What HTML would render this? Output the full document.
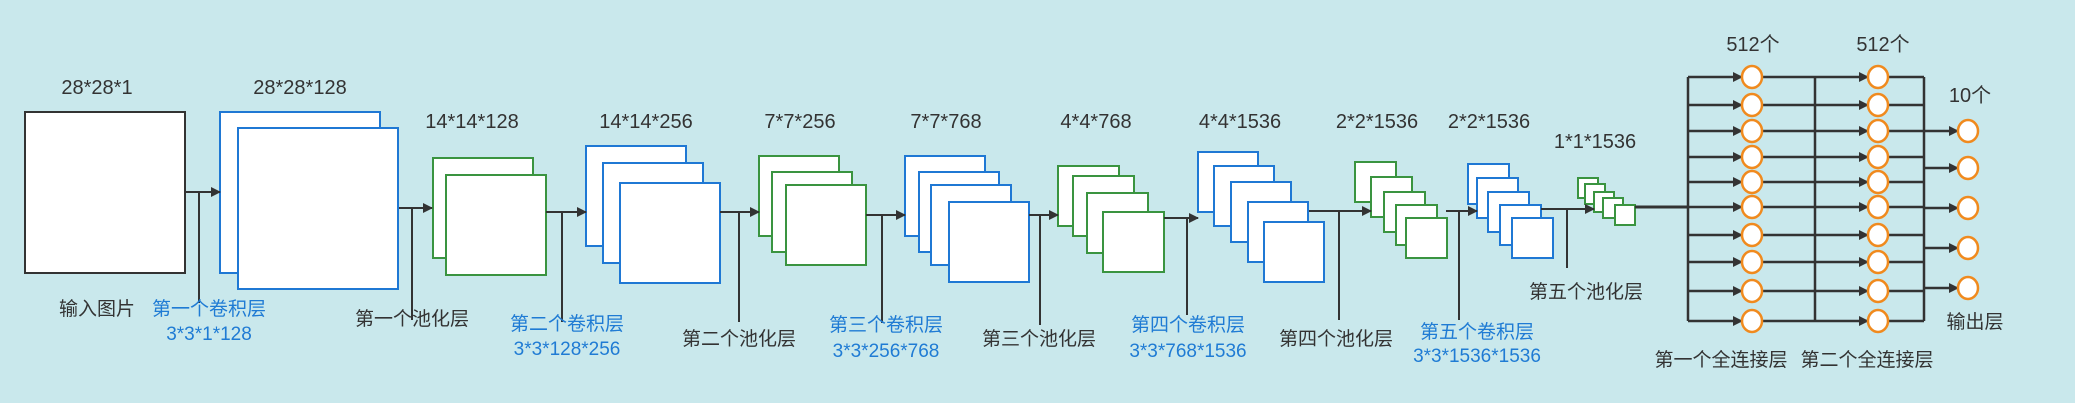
<!DOCTYPE html>
<html><head><meta charset="utf-8"><style>
html,body{margin:0;padding:0;background:#c9e8ec;}
svg{display:block;}
text{font-family:"Liberation Sans","Noto Sans CJK SC",sans-serif;}
.d{font-size:20px;fill:#333;}
.c{font-size:19px;fill:#333;}
.b{font-size:19px;fill:#1f7bd4;}
</style></head><body>
<svg width="2075" height="403" viewBox="0 0 2075 403" xmlns="http://www.w3.org/2000/svg">
<defs><marker id="ah" markerWidth="10" markerHeight="10" refX="9" refY="5" orient="auto" markerUnits="userSpaceOnUse"><path d="M0,0 L10,5 L0,10 z" fill="#333"/></marker></defs>
<rect width="2075" height="403" fill="#c9e8ec"/>
<g id="boxes" fill="#fff" stroke-width="2"></g>
<g id="lines" stroke="#333" stroke-width="2" fill="none"></g>
<g id="labels"></g>
<g id="fc"></g>
</svg>
<script>
const NS='http://www.w3.org/2000/svg';
function mk(tag,attrs,parent,name){const e=document.createElementNS(NS,tag);for(const k in attrs)e.setAttribute(k,attrs[k]);


document.getElementById(parent).appendChild(e);return e;}
const BLUE='#1f78d4',GREEN='#3a9440',BLACK='#333';
const stacks=[
 ['input-image-box',BLACK,160,161,[[25,112]]],
 ['conv1-maps',BLUE,160,161,[[220,112],[238,128]]],
 ['pool1-maps',GREEN,100,100,[[433,158],[446,175]]],
 ['conv2-maps',BLUE,100,100,[[586,146],[603,163],[620,183]]],
 ['pool2-maps',GREEN,80,80,[[759,156],[772,172],[786,185]]],
 ['conv3-maps',BLUE,80,80,[[905,156],[919,172],[931,185],[949,202]]],
 ['pool3-maps',GREEN,61,60,[[1058,166],[1073,176],[1087,193],[1103,212]]],
 ['conv4-maps',BLUE,60,60,[[1198,152],[1214,166],[1231,182],[1248,202],[1264,222]]],
 ['pool4-maps',GREEN,41,40,[[1355,162],[1371,177],[1384,192],[1396,205],[1406,218]]],
 ['conv5-maps',BLUE,41,40,[[1468,164],[1477,178],[1488,192],[1500,205],[1512,218]]],
 ['pool5-maps',GREEN,20,20,[[1578,178],[1585,184],[1594,192],[1603,198],[1615,205]]]
];
stacks.forEach(s=>s[4].forEach(p=>mk('rect',{x:p[0],y:p[1],width:s[2],height:s[3],stroke:s[1]},'boxes',s[0])));
const arrows=[[185,220,192,199,303],[399,432,208,412,320],[546,586,212,562,322],[720,759,212,739,322],[866,905,215,882,323],[1029,1058,215,1040,325],[1164,1198,218,1187,315],[1309,1371,211,1339,320],[1446,1477,211,1459,320],[1541,1594,209,1567,268]];
arrows.forEach(a=>{mk('line',{x1:a[0],y1:a[2],x2:a[1],y2:a[2],'marker-end':'url(#ah)'},'lines','layer-arrow');
 mk('line',{x1:a[3],y1:a[2],x2:a[3],y2:a[4]},'lines','label-leader');});
mk('line',{x1:1635,y1:207,x2:1688,y2:207,'stroke-width':3},'lines','flatten-line');
const labels=[['28*28*1',97,94,'d'],['28*28*128',300,94,'d'],['14*14*128',472,128,'d'],['14*14*256',646,128,'d'],['7*7*256',800,128,'d'],['7*7*768',946,128,'d'],['4*4*768',1096,128,'d'],['4*4*1536',1240,128,'d'],['2*2*1536',1377,128,'d'],['2*2*1536',1489,128,'d'],['1*1*1536',1595,148,'d'],
['输入图片',97,315,'c'],['第一个卷积层',209,315,'b'],['3*3*1*128',209,340,'b'],['第一个池化层',412,325,'c'],['第二个卷积层',567,330,'b'],['3*3*128*256',567,355,'b'],['第二个池化层',739,345,'c'],['第三个卷积层',886,331,'b'],['3*3*256*768',886,357,'b'],['第三个池化层',1039,345,'c'],['第四个卷积层',1188,331,'b'],['3*3*768*1536',1188,357,'b'],['第四个池化层',1336,345,'c'],['第五个卷积层',1477,338,'b'],['3*3*1536*1536',1477,362,'b'],['第五个池化层',1586,298,'c'],
['512个',1753,51,'d'],['512个',1883,51,'d'],['10个',1970,102,'d'],['输出层',1975,328,'c'],['第一个全连接层',1721,366,'c'],['第二个全连接层',1867,366,'c']];
labels.forEach(l=>{const t=mk('text',{x:l[1],y:l[2],'text-anchor':'middle',class:l[3]},'labels','layer-label');t.textContent=l[0];});
const rows=[77,105,131,157,182,207,235,262,291,321];
const outs=[131,168,208,248,288];
const L='#333';
mk('line',{x1:1688,y1:77,x2:1688,y2:321,stroke:L,'stroke-width':2.5},'fc','fc1-bus');
mk('line',{x1:1815,y1:77,x2:1815,y2:321,stroke:L,'stroke-width':2.5},'fc','fc2-bus');
mk('line',{x1:1924,y1:77,x2:1924,y2:321,stroke:L,'stroke-width':2.5},'fc','output-bus');
rows.forEach(y=>{
 mk('line',{x1:1688,y1:y,x2:1742,y2:y,stroke:L,'stroke-width':2.5,'marker-end':'url(#ah)'},'fc','fc1-input-arrow');
 mk('line',{x1:1762,y1:y,x2:1868,y2:y,stroke:L,'stroke-width':2.5,'marker-end':'url(#ah)'},'fc','fc2-input-arrow');
 mk('line',{x1:1888,y1:y,x2:1924,y2:y,stroke:L,'stroke-width':2.5},'fc','fc2-output-line');
 mk('ellipse',{cx:1752,cy:y,rx:10,ry:11,fill:'#fff',stroke:'#f08a1e','stroke-width':2.5},'fc','fc1-neuron');
 mk('ellipse',{cx:1878,cy:y,rx:10,ry:11,fill:'#fff',stroke:'#f08a1e','stroke-width':2.5},'fc','fc2-neuron');
});
outs.forEach(y=>{
 mk('line',{x1:1924,y1:y,x2:1958,y2:y,stroke:L,'stroke-width':2.5,'marker-end':'url(#ah)'},'fc','output-arrow');
 mk('ellipse',{cx:1968,cy:y,rx:10,ry:11,fill:'#fff',stroke:'#f08a1e','stroke-width':2.5},'fc','output-neuron');
});
</script>
</body></html>
